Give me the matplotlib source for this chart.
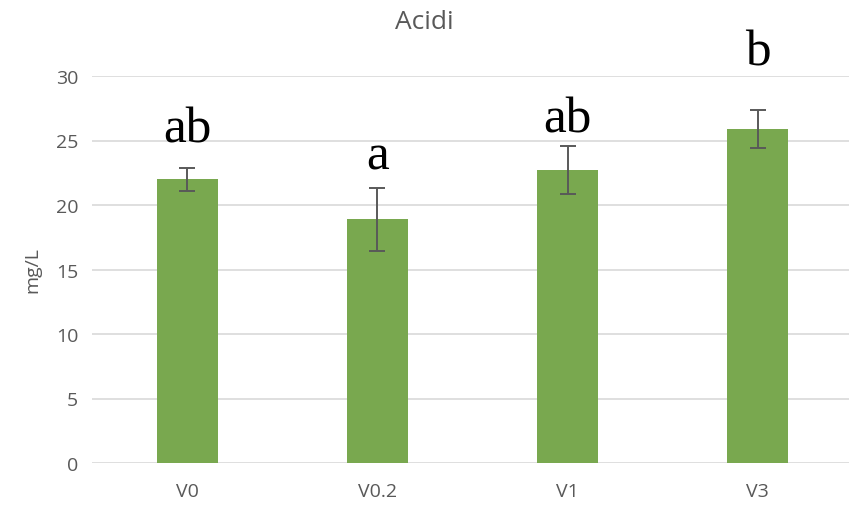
import matplotlib.pyplot as plt

categories = ["V0", "V0.2", "V1", "V3"]
means = [22.0, 18.9, 22.7, 25.9]
errors = [0.9, 2.45, 1.85, 1.5]
letters = ["ab", "a", "ab", "b"]
letter_y = [24.9, 22.8, 25.7, 30.9]

grey = "#595959"
plt.rcParams["font.family"] = ["Open Sans", "DejaVu Sans"]

fig = plt.figure(figsize=(8.49, 5.06), dpi=100)
ax = fig.add_axes([92 / 849, 42 / 506, 761 / 849, 387 / 506])

x = range(len(categories))
ax.bar(x, means, width=0.32, color="#79a84f", zorder=2)
ax.errorbar(x, means, yerr=errors, fmt="none", ecolor=grey, elinewidth=1.4,
            capsize=5.5, capthick=1.4, zorder=3)

# significance letters above bars
for i, (lab, yy) in enumerate(zip(letters, letter_y)):
    ax.text(i, yy, lab, ha="center", va="baseline", fontsize=37,
            family="Liberation Serif", color="black", clip_on=False)

ax.set_xlim(-0.5, 3.5)
ax.set_ylim(0, 30)
ax.set_yticks(range(0, 31, 5))
ax.set_xticks(list(x))
ax.set_xticklabels(categories)
ax.grid(axis="y", color="#d9d9d9", linewidth=1.2, zorder=0)
ax.set_axisbelow(True)
for s in ax.spines.values():
    s.set_visible(False)
ax.tick_params(axis="both", length=0, labelsize=14, colors=grey, pad=10)
ax.tick_params(axis="x", pad=14)
ax.set_ylabel("mg/L", fontsize=14, color=grey, labelpad=10)
fig.text(0.5, 0.955, "Acidi", ha="center", va="center", fontsize=19, color=grey)

fig.savefig("out.png", dpi=100)
